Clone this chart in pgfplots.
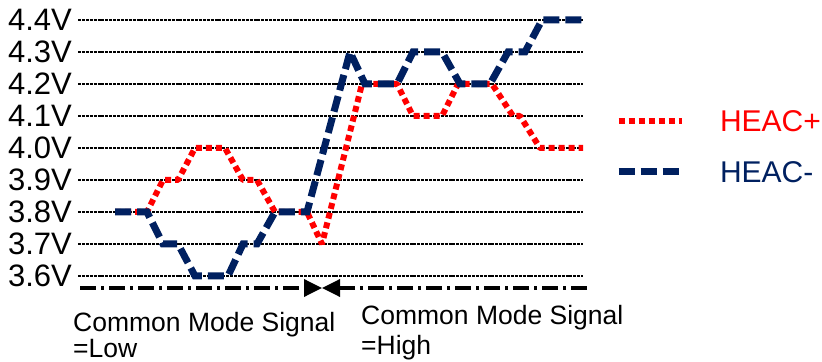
\documentclass[border=0pt]{standalone}
\usepackage{pgfplots}
\pgfplotsset{compat=1.18}
\usepackage{fontspec}
\setmainfont{Liberation Sans}
\usetikzlibrary{arrows.meta}
\definecolor{heacred}{RGB}{255,0,0}
\definecolor{heacblue}{RGB}{0,32,96}
\begin{document}
\begin{tikzpicture}
\begin{axis}[
  name=ax,
  scale only axis, width=822bp, height=362bp,
  xmin=0, xmax=822, ymin=3.33125, ymax=4.4625,
  clip=false,
  axis line style={draw=none},
  xtick=\empty,
  ytick={3.6,3.7,3.8,3.9,4.0,4.1,4.2,4.3,4.4},
  yticklabels={3.6V,3.7V,3.8V,3.9V,4.0V,4.1V,4.2V,4.3V,4.4V},
  major tick length=0pt,
  yticklabel style={anchor=east, inner sep=0pt, xshift=72bp, font=\fontsize{31bp}{36bp}\selectfont},
  legend cell align=left,
  legend style={at={(axis cs:615,4.11875)}, anchor=north west, draw=none, fill=none,
    inner sep=0pt, outer sep=0pt, row sep=29bp, column sep=35bp,
    nodes={inner sep=0pt, text height=22bp, text depth=0bp, font=\fontsize{30bp}{36bp}\selectfont}},
  legend image code/.code={\draw[#1] (0bp,0bp) -- (63bp,0bp);},
]
% grid lines
\pgfplotsinvokeforeach{3.6,3.7,3.8,3.9,4.0,4.1,4.2,4.3,4.4}{
  \addplot[black, line width=2.6bp, dash pattern=on 3bp off 0.9bp, forget plot] coordinates {(78,#1) (583,#1)};
}
% HEAC+
\addplot[heacred, line width=6bp, line join=bevel, dash pattern=on 6bp off 4bp] coordinates {
(115,3.8)(147,3.8)(163,3.9)(178,3.9)(195,4.0)(225,4.0)(243,3.9)(257,3.9)(275,3.8)(307,3.8)(322,3.7)(362,4.2)(397,4.2)(413,4.1)(442,4.1)(458,4.2)(492,4.2)(513,4.1)(520,4.1)(540,4.0)(583,4.0)
};
\addlegendentry{\textcolor{heacred}{HEAC+}}
% HEAC-
\addplot[heacblue, line width=7bp, dash pattern=on 16bp off 6bp] coordinates {
(115,3.8)(147,3.8)(163,3.7)(178,3.7)(195,3.6)(228,3.6)(243,3.7)(257,3.7)(275,3.8)(307,3.8)(350,4.3)(365,4.2)(397,4.2)(413,4.3)(442,4.3)(460,4.2)(490,4.2)(508,4.3)(525,4.3)(542,4.4)(583,4.4)
};
\addlegendentry{\textcolor{heacblue}{HEAC-}}
% arrows
\draw[black, line width=3.5bp, dash pattern=on 16bp off 5bp on 3bp off 5bp, -{Triangle[length=18bp,width=17bp]}] (axis cs:80,3.5625) -- (axis cs:322,3.5625);
\draw[black, line width=3.5bp, dash pattern=on 16bp off 5bp on 3bp off 5bp, -{Triangle[length=18bp,width=17bp]}] (axis cs:587,3.5625) -- (axis cs:322,3.5625);
% labels
\node[anchor=base west, inner sep=0pt, font=\fontsize{26.5bp}{30bp}\selectfont] at (axis cs:73,3.428125) {Common Mode Signal};
\node[anchor=base west, inner sep=0pt, font=\fontsize{26.5bp}{30bp}\selectfont] at (axis cs:73,3.346875) {=Low};
\node[anchor=base west, inner sep=0pt, font=\fontsize{26.5bp}{30bp}\selectfont] at (axis cs:361,3.446875) {Common Mode Signal};
\node[anchor=base west, inner sep=0pt, font=\fontsize{26.5bp}{30bp}\selectfont] at (axis cs:361,3.35625) {=High};
\end{axis}
\pgfresetboundingbox
\path[use as bounding box] (ax.south west) rectangle (ax.north east);
\end{tikzpicture}
\end{document}
